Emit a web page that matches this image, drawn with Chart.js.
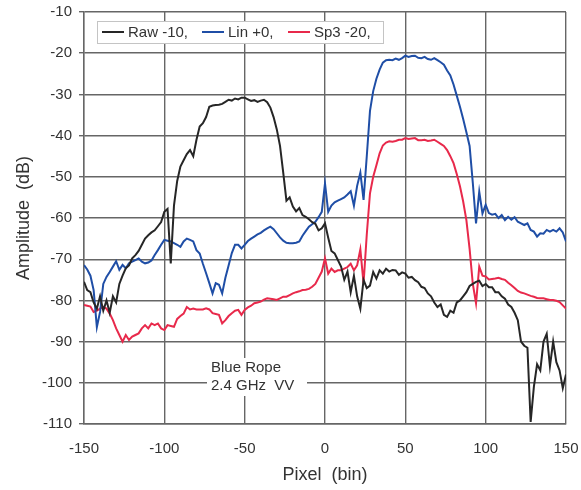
<!DOCTYPE html>
<html>
<head>
<meta charset="utf-8">
<script src="https://cdn.jsdelivr.net/npm/chart.js@4.4.0/dist/chart.umd.min.js"></script>
<style>
  html, body { margin: 0; padding: 0; background: #fff; }
  #wrap { width: 581px; height: 490px; }
</style>
</head>
<body>
<div id="wrap"><canvas id="myChart" width="581" height="490"></canvas></div>
<script>
// pixel bins along the x axis (every 2nd bin)
const bins = [
  -150,-148,-146,-144,-142,-140,-138,-136,-134,-132,
  -130,-128,-126,-124,-122,-120,-118,-116,-114,-112,
  -110,-108,-106,-104,-102,-100,-98,-96,-94,-92,
  -90,-88,-86,-84,-82,-80,-78,-76,-74,-72,
  -70,-68,-66,-64,-62,-60,-58,-56,-54,-52,
  -50,-48,-46,-44,-42,-40,-38,-36,-34,-32,
  -30,-28,-26,-24,-22,-20,-18,-16,-14,-12,
  -10,-8,-6,-4,-2,0,2,4,6,8,
  10,12,14,16,18,20,22,24,26,28,
  30,32,34,36,38,40,42,44,46,48,
  50,52,54,56,58,60,62,64,66,68,
  70,72,74,76,78,80,82,84,86,88,
  90,92,94,96,98,100,102,104,106,108,
  110,112,114,116,118,120,122,124,126,128,
  130,132,134,136,138,140,142,144,146,148,
  150
];

// Raw -10 (black)
const rawValues = [
  -75.5,-77.5,-78,-80.5,-82,-79,-82.5,-80,-83,-79,
  -80.5,-76,-74,-72.2,-71.5,-69.8,-69,-68,-66.5,-65,
  -64.2,-63.5,-63,-62,-61,-58.5,-57.8,-71,-57,-51,
  -47.5,-46,-44.5,-43.5,-45,-41,-37.8,-37,-35.5,-33,
  -32.7,-32.6,-32.5,-32.3,-31.8,-31.3,-31.5,-31,-31.2,-30.8,
  -30.8,-31.2,-31.6,-31.4,-31.8,-31.5,-31.3,-31.9,-33.2,-35.5,
  -38.5,-42.5,-49,-55.8,-55,-57.2,-58.4,-57.6,-59.3,-59.7,
  -60.3,-61,-61.4,-63,-62.5,-61.3,-64.8,-68,-68.6,-70.2,
  -71.8,-75,-73,-78,-74,-79,-82,-75,-77,-76.4,
  -73.1,-74.7,-72.7,-73.5,-72.3,-73,-72.6,-72.7,-73.8,-73.2,
  -73.5,-74.5,-74.3,-75.1,-75.6,-76.7,-77,-78.3,-79,-80.5,
  -81.6,-81,-83.5,-84,-82.5,-83,-80.5,-80,-79,-78,
  -76.5,-76,-75.5,-75.2,-76.5,-76,-76.8,-76.8,-78,-78,
  -79,-79.6,-81,-81.6,-83,-84.8,-90,-91,-91.5,-109.5,
  -101,-95.5,-97,-90,-88.1,-96,-90,-95,-97,-101.3,
  -98
];

// Lin +0 (blue)
const linValues = [
  -71.4,-72.5,-74,-77.5,-86.5,-82.8,-76,-74.3,-73.1,-71.8,
  -70.5,-72.6,-71.4,-72.2,-71,-70.6,-70.2,-69.8,-70.6,-71,
  -70.8,-70.3,-69,-67.8,-66.5,-65.3,-65.5,-65.7,-66.1,-66.5,
  -67,-65.7,-65,-65.3,-65.7,-67.8,-68.6,-71.1,-73.4,-75.8,
  -78.3,-75.8,-76.2,-78.3,-74.5,-71.5,-68.5,-66.5,-66.5,-67.4,
  -66.5,-65.6,-65,-64.5,-64,-63.6,-63,-62.5,-62.1,-62.7,
  -63.7,-64.7,-65.5,-66,-66.1,-66.1,-66,-65.7,-64.3,-63.2,
  -62.1,-61.5,-60.9,-59.8,-58.5,-51.6,-58.5,-57,-56.2,-55.8,
  -55.4,-55,-54.3,-53.5,-57,-52.2,-49,-55.6,-45,-34,
  -29.2,-26.2,-24,-22.3,-21.7,-21.6,-21.7,-21.3,-21.6,-21.2,
  -20.6,-20.9,-20.7,-20.6,-21.1,-21.2,-20.9,-21.4,-21.6,-21.2,
  -21.7,-22.2,-22.8,-24.2,-25.4,-27.6,-30.3,-33,-36,-39.2,
  -42.5,-51.5,-61.3,-53.6,-58.9,-56.8,-58.8,-59.2,-59,-60,
  -59.3,-60.5,-59.7,-60.4,-59.8,-60.9,-61.3,-61.7,-61.3,-62.9,
  -63.3,-64.5,-63.7,-63.8,-62.9,-63.3,-62.9,-63.3,-62.5,-63.5,
  -65.7
];

// Sp3 -20 (red)
const sp3Values = [
  -81.1,-81.3,-81.5,-82.8,-82.5,-82,-81.6,-82,-83.2,-84.8,
  -86.8,-88.4,-90,-88.4,-89.6,-88.8,-88.4,-88,-86.8,-86,
  -86.8,-85.6,-86,-85.6,-86.8,-87.2,-86,-86.2,-86.4,-84.5,
  -83.8,-83.2,-81.6,-82.2,-82,-82.2,-82.2,-82.2,-81.9,-82.2,
  -83.1,-83.3,-83.5,-85.6,-84.8,-83.8,-83.1,-82.5,-82.3,-83.5,
  -82.3,-81.7,-81.3,-80.7,-80.5,-80.3,-79.8,-79.5,-79.6,-79.7,
  -79.9,-79.5,-79.1,-79.1,-78.7,-78.3,-78,-77.8,-77.5,-77.4,
  -77.2,-76.7,-76,-74.5,-73,-69.8,-73.5,-72.3,-73.1,-72.7,
  -72.7,-72.3,-71.9,-71.1,-72.7,-71.5,-67.6,-75.9,-64,-54,
  -50,-47.2,-44.3,-42.4,-41.7,-41.4,-41.5,-41.3,-41,-41,
  -40.6,-40.8,-40.7,-40.6,-41.1,-41.1,-41,-41.3,-41.2,-41,
  -41.5,-42,-42.5,-43.5,-45,-46.7,-49.3,-52.3,-56,-60.5,
  -67.5,-76,-80.7,-71.8,-74,-74.2,-74.9,-74.8,-74.7,-74.5,
  -74.8,-75,-75.7,-76.3,-77,-77.7,-78.1,-78.3,-78.6,-78.9,
  -79.1,-79.4,-79.5,-79.5,-79.7,-79.9,-79.9,-80.1,-80.4,-81.2,
  -82
];

const seriesLabels = ['Raw -10,', 'Lin +0,', 'Sp3 -20,'];
const noteLines = ['Blue Rope', '2.4 GHz  VV'];

function toPoints(values) {
    return values.map((v, i) => ({ x: bins[i], y: v }));
}

const gridColor = '#666666';
const textColor = '#333333';
const fontFamily = '"Liberation Sans", Arial, sans-serif';

// legend box drawn inside the plot area, upper left
const insideLegend = {
    id: 'insideLegend',
    afterDatasetsDraw(chart) {
        const c = chart.ctx;
        c.save();
        c.fillStyle = '#ffffff';
        c.fillRect(97, 21, 286, 22);
        c.strokeStyle = '#c4c4c4';
        c.lineWidth = 1;
        c.strokeRect(97.5, 21.5, 286, 22);
        const starts = [102, 202, 288];
        c.font = '15px ' + fontFamily;
        c.textBaseline = 'middle';
        c.textAlign = 'left';
        chart.data.datasets.forEach((ds, i) => {
            c.strokeStyle = ds.borderColor;
            c.lineWidth = 2;
            c.beginPath();
            c.moveTo(starts[i], 32);
            c.lineTo(starts[i] + 22, 32);
            c.stroke();
            c.fillStyle = textColor;
            c.fillText(ds.label, starts[i] + 26, 33);
        });
        c.restore();
    }
};

// text note with a white background, lower middle
const noteBox = {
    id: 'noteBox',
    afterDatasetsDraw(chart) {
        const c = chart.ctx;
        c.save();
        c.fillStyle = '#ffffff';
        c.fillRect(207, 358, 100, 38);
        c.font = '15px ' + fontFamily;
        c.fillStyle = textColor;
        c.textBaseline = 'middle';
        c.textAlign = 'left';
        c.fillText(noteLines[0], 211, 368);
        c.fillText(noteLines[1], 211, 386);
        c.restore();
    }
};

const ctx = document.getElementById('myChart');

new Chart(ctx, {
    type: 'line',
    data: {
        datasets: [{
            label: seriesLabels[0],
            data: toPoints(rawValues),
            borderColor: '#262626',
            borderWidth: 2,
            pointRadius: 0,
            tension: 0
        }, {
            label: seriesLabels[1],
            data: toPoints(linValues),
            borderColor: '#1f4ea6',
            borderWidth: 2,
            pointRadius: 0,
            tension: 0
        }, {
            label: seriesLabels[2],
            data: toPoints(sp3Values),
            borderColor: '#e8294b',
            borderWidth: 2,
            pointRadius: 0,
            tension: 0
        }]
    },
    options: {
        responsive: false,
        animation: false,
        layout: { padding: { top: 12, right: 15, left: 0, bottom: 0 } },
        plugins: {
            legend: { display: false },
            tooltip: { enabled: false }
        },
        scales: {
            x: {
                type: 'linear',
                min: -150,
                max: 150,
                ticks: {
                    stepSize: 50,
                    color: textColor,
                    font: { family: fontFamily, size: 15 },
                    padding: 16,
                    maxRotation: 0
                },
                grid: { color: gridColor, lineWidth: 1.4, drawTicks: false },
                border: { color: gridColor, width: 1.4 },
                title: {
                    display: true,
                    text: 'Pixel  (bin)',
                    color: textColor,
                    font: { family: fontFamily, size: 18 },
                    padding: { top: 0, bottom: 4 }
                },
                afterFit(scale) {
                    scale.height = 66;
                    // keep the plot edges where the layout padding puts them
                    scale.paddingLeft = 0;
                    scale.paddingRight = 0;
                }
            },
            y: {
                min: -110,
                max: -10,
                ticks: {
                    stepSize: 10,
                    color: textColor,
                    font: { family: fontFamily, size: 15 },
                    padding: 7
                },
                grid: { color: gridColor, lineWidth: 1.4, tickLength: 5 },
                border: { color: gridColor, width: 1.4 },
                title: {
                    display: true,
                    text: 'Amplitude  (dB)',
                    color: textColor,
                    font: { family: fontFamily, size: 18 },
                    padding: { top: 13, bottom: 0 }
                },
                afterFit(scale) {
                    scale.width = 84;
                    scale.paddingTop = 0;
                    scale.paddingBottom = 0;
                }
            }
        }
    },
    plugins: [insideLegend, noteBox]
});
</script>
</body>
</html>
